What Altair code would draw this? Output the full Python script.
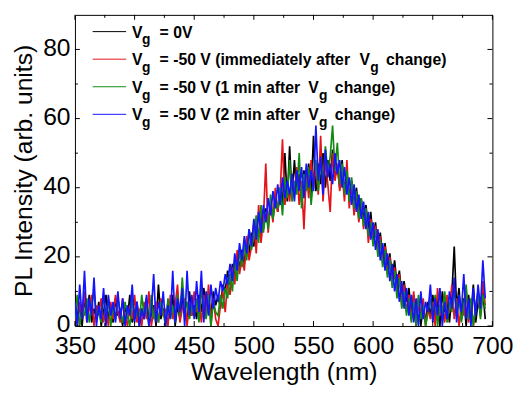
import altair as alt
import pandas as pd

# ---------------- data ----------------
wavelength = list(range(350, 695, 2))  # nm, 2-nm sampling grid, 350..694

pl_0v = [
    10, 2, 6, 0, 8, 3, 9, 1, 5, 2,
    7, 0, 4, 9, 2, 6, 1, 8, 3, 5,
    0, 6, 2, 9, 1, 4, 7, 0, 5, 2,
    8, 1, 3, 6, 0, 12, 2, 5, 1, 7,
    3, 9, 0, 6, 2, 8, 4, 1, 10, 3,
    6, 2, 9, 4, 11, 5, 8, 3, 10, 6,
    9, 5, 12, 10, 16, 12, 18, 14, 20, 17,
    22, 18, 25, 21, 27, 23, 30, 26, 32, 28,
    34, 29, 36, 31, 38, 33, 40, 35, 50, 36,
    52, 37, 48, 39, 44, 36, 45, 40, 47, 38,
    55, 39, 47, 41, 50, 40, 48, 42, 51, 43,
    46, 40, 48, 39, 44, 37, 42, 35, 40, 33,
    37, 31, 35, 28, 33, 25, 30, 22, 27, 20,
    24, 17, 21, 14, 19, 12, 16, 9, 13, 7,
    11, 4, 9, 2, 8, 0, 6, 1, 7, 3,
    9, 2, 8, 0, 10, 4, 7, 1, 9, 23,
    5, 11, 2, 8, 0, 9, 3, 12, 1, 7,
    4, 10, 2,
]
pl_50_imm = [
    4, 0, 7, 2, 10, 1, 5, 9, 0, 6,
    3, 8, 1, 5, 0, 7, 2, 9, 4, 1,
    8, 3, 0, 6, 2, 9, 1, 5, 0, 7,
    2, 10, 0, 4, 7, 1, 8, 3, 5, 0,
    9, 2, 6, 12, 1, 5, 8, 0, 7, 3,
    10, 4, 7, 1, 9, 3, 12, 0, 8, 2,
    0, 6, 10, 4, 13, 9, 17, 12, 22, 15,
    20, 16, 26, 19, 23, 30, 21, 35, 24, 31,
    47, 27, 36, 30, 40, 33, 38, 54, 35, 41,
    36, 44, 38, 46, 35, 42, 28, 45, 37, 48,
    40, 46, 38, 55, 36, 48, 41, 33, 50, 42,
    47, 39, 44, 36, 48, 34, 41, 32, 38, 30,
    36, 28, 34, 24, 31, 26, 29, 21, 26, 18,
    23, 15, 20, 13, 17, 10, 15, 6, 12, 4,
    9, 2, 10, 0, 6, 3, 8, 0, 5, 2,
    7, 0, 11, 3, 6, 1, 9, 4, 12, 2,
    8, 0, 6, 3, 10, 1, 7, 0, 5, 9,
    3, 13, 6,
]
pl_50_1min = [
    2, 9, 0, 5, 3, 8, 1, 6, 10, 2,
    5, 1, 9, 3, 7, 0, 6, 2, 8, 4,
    1, 7, 3, 0, 8, 2, 5, 1, 9, 3,
    6, 0, 9, 2, 5, 1, 7, 4, 0, 8,
    2, 6, 1, 9, 3, 14, 4, 7, 2, 6,
    3, 8, 1, 11, 5, 2, 9, 0, 7, 4,
    3, 9, 5, 11, 8, 15, 10, 19, 13, 22,
    17, 24, 19, 28, 22, 26, 32, 24, 35, 27,
    33, 28, 38, 31, 36, 34, 40, 32, 43, 37,
    48, 36, 42, 38, 50, 34, 44, 39, 46, 35,
    43, 48, 39, 47, 42, 52, 44, 49, 58, 45,
    53, 41, 47, 38, 45, 36, 43, 34, 39, 31,
    37, 29, 34, 26, 30, 23, 28, 20, 25, 17,
    22, 14, 19, 11, 16, 8, 14, 5, 10, 3,
    8, 1, 7, 0, 9, 2, 6, 0, 4, 8,
    2, 9, 0, 6, 3, 10, 1, 7, 4, 11,
    3, 9, 1, 6, 12, 2, 8, 0, 6, 10,
    2, 9, 5,
]
pl_50_2min = [
    7, 0, 12, 2, 16, 1, 8, 3, 14, 0,
    6, 2, 11, 0, 9, 3, 7, 1, 10, 2,
    8, 0, 6, 3, 12, 1, 7, 0, 5, 2,
    9, 0, 4, 15, 1, 7, 3, 10, 0, 6,
    2, 16, 1, 8, 4, 11, 0, 16, 3, 9,
    2, 13, 4, 16, 1, 10, 3, 12, 5, 11,
    7, 13, 10, 15, 12, 18, 13, 21, 16, 24,
    19, 26, 21, 28, 23, 31, 25, 33, 27, 35,
    30, 37, 32, 39, 34, 41, 35, 43, 37, 42,
    38, 44, 36, 45, 39, 46, 37, 47, 40, 45,
    39, 58, 42, 49, 38, 51, 43, 47, 41, 50,
    44, 48, 40, 46, 38, 43, 35, 41, 33, 38,
    31, 36, 28, 33, 25, 30, 22, 28, 19, 24,
    16, 21, 13, 18, 10, 15, 7, 13, 5, 11,
    3, 9, 1, 8, 0, 10, 2, 7, 4, 12,
    1, 8, 3, 11, 0, 7, 2, 10, 5, 14,
    1, 9, 4, 15, 2, 8, 0, 11, 3, 12,
    5, 19, 8,
]

series_values = [pl_0v, pl_50_imm, pl_50_1min, pl_50_2min]
series_colors = ["#000000", "#e3151b", "#138a13", "#1414ff"]

x_labels = [350, 400, 450, 500, 550, 600, 650, 700]
x_minor = [375, 425, 475, 525, 575, 625, 675]
y_labels = [0, 20, 40, 60, 80]
y_minor = [10, 30, 50, 70]

legend_rows = [
    ["V", "g", "= 0V", None, None, None],
    ["V", "g", "= -50 V (immediately after", "V", "g", "change)"],
    ["V", "g", "= -50 V (1 min after", "V", "g", "change)"],
    ["V", "g", "= -50 V (2 min after", "V", "g", "change)"],
]

# ---------------- layout ----------------
W, H = 424, 316
FONT = "Liberation Sans"

xscale = alt.Scale(domain=[350, 700], nice=False, zero=False)
yscale = alt.Scale(domain=[0, 90], nice=False)
xaxis = alt.Axis(values=x_labels, title="Wavelength (nm)", format="d",
                 labelFont=FONT, labelFontSize=25, labelColor="black",
                 labelFlush=False, labelPadding=8,
                 titleFont=FONT, titleFontSize=25, titleFontWeight="normal",
                 titleColor="black", titlePadding=1,
                 ticks=False, domain=False, grid=False)
yaxis = alt.Axis(values=y_labels, title="PL Intensity (arb. units)", format="d",
                 labelFont=FONT, labelFontSize=25, labelColor="black",
                 labelFlush=False, labelPadding=5, labelOffset=-2,
                 titleFont=FONT, titleFontSize=25, titleFontWeight="normal",
                 titleColor="black", titlePadding=6,
                 ticks=False, domain=False, grid=False)
X = alt.X("wl:Q", scale=xscale, axis=xaxis)
Y = alt.Y("pl:Q", scale=yscale, axis=yaxis)

layers = []
for vals, col in zip(series_values, series_colors):
    df = pd.DataFrame({"wl": wavelength, "pl": vals})
    layers.append(
        alt.Chart(df).mark_line(color=col, strokeWidth=1.7, clip=True)
        .encode(x=X, y=Y, order="wl:Q")
    )

# inward ticks on all four sides
def xticks(vals, length):
    d = pd.DataFrame({"wl": vals})
    bot = alt.Chart(d).mark_rule(color="black", strokeWidth=1).encode(
        x=X, y=alt.value(H), y2=alt.value(H - length))
    top = alt.Chart(d).mark_rule(color="black", strokeWidth=1).encode(
        x=X, y=alt.value(0), y2=alt.value(length))
    return [bot, top]

def yticks(vals, length):
    d = pd.DataFrame({"pl": vals})
    left = alt.Chart(d).mark_rule(color="black", strokeWidth=1).encode(
        y=Y, x=alt.value(0), x2=alt.value(length))
    right = alt.Chart(d).mark_rule(color="black", strokeWidth=1).encode(
        y=Y, x=alt.value(W), x2=alt.value(W - length))
    return [left, right]

layers += xticks(x_labels, 5) + xticks(x_minor, 3)
layers += yticks(y_labels, 5) + yticks(y_minor, 3)

# legend
one = pd.DataFrame({"k": [0]})
row_y = [17, 45, 73, 101]
second_v_x = [None, 289, 237, 237]
MAIN_FS, SUB_FS = 16, 14

def txt(s, px, py, fs):
    return alt.Chart(one).mark_text(
        text=s, align="left", baseline="alphabetic", font=FONT,
        fontWeight="bold", fontSize=fs, color="black"
    ).encode(x=alt.value(px), y=alt.value(py))

for i, (segs, col) in enumerate(zip(legend_rows, series_colors)):
    ry = row_y[i]
    layers.append(alt.Chart(one).mark_rule(color=col, strokeWidth=1).encode(
        x=alt.value(18), x2=alt.value(52), y=alt.value(ry)))
    layers.append(txt(segs[0], 58, ry + 6, MAIN_FS))
    layers.append(txt(segs[1], 68, ry + 13, SUB_FS))
    layers.append(txt(segs[2], 86, ry + 6, MAIN_FS))
    if segs[3]:
        vx = second_v_x[i]
        layers.append(txt(segs[3], vx, ry + 6, MAIN_FS))
        layers.append(txt(segs[4], vx + 11, ry + 13, SUB_FS))
        layers.append(txt(segs[5], vx + 27, ry + 6, MAIN_FS))

chart = alt.layer(*layers).properties(
    width=W, height=H,
    padding={"left": 68, "top": 4, "right": 26, "bottom": 60},
    autosize=alt.AutoSizeParams(type="none"),
).configure_view(stroke="black", strokeWidth=1)

chart.save("out.html", embed_options={"renderer": "svg", "actions": False})
